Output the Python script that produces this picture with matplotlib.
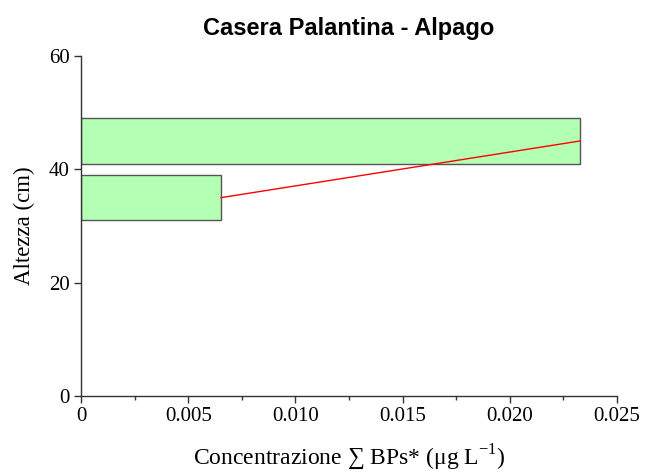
import matplotlib.pyplot as plt
from matplotlib.ticker import MultipleLocator, FuncFormatter

plt.rcParams['font.family'] = ['Liberation Serif', 'DejaVu Serif']
plt.rcParams['mathtext.fontset'] = 'custom'
plt.rcParams['mathtext.rm'] = 'Liberation Serif'

# sampling depth intervals (cm) and summed BPs concentration
depth_center = [35, 45]
depth_span = [8, 8]
conc = [0.00653, 0.02327]

fig = plt.figure(figsize=(6.51, 4.74), dpi=100)
ax = fig.add_axes([0.1244, 0.1646, 0.8234, 0.7173])

ax.barh(depth_center, conc, height=depth_span, color='#b3ffb3',
        edgecolor='#555555', linewidth=1.0, zorder=2)
ax.plot(conc, depth_center, color='red', linewidth=1.0, zorder=3)

ax.set_xlim(0, 0.025)
ax.set_ylim(0, 60)
ax.xaxis.set_major_locator(MultipleLocator(0.005))
ax.xaxis.set_minor_locator(MultipleLocator(0.0025))
ax.yaxis.set_major_locator(MultipleLocator(20))
ax.xaxis.set_major_formatter(FuncFormatter(lambda v, p: '0' if abs(v) < 1e-12 else '%.3f' % v))
ax.yaxis.set_major_formatter(FuncFormatter(lambda v, p: '%d' % v))

for s in ['top', 'right']:
    ax.spines[s].set_visible(False)
for s in ['left', 'bottom']:
    ax.spines[s].set_color('#333333')
    ax.spines[s].set_linewidth(1.0)

ax.tick_params(axis='both', which='major', direction='out', length=5, width=1,
               labelsize=15, color='#333333', pad=3)
ax.tick_params(axis='x', which='minor', direction='out', length=3, width=1, color='#333333')

ax.set_xlabel('Concentrazione ∑ BPs* (μg L$^{-1}$)', fontsize=17, labelpad=12)
ax.set_ylabel('Altezza (cm)', fontsize=16.5, labelpad=10)
ax.set_title('Casera Palantina - Alpago', fontsize=17, fontweight='bold',
             family='Liberation Sans', pad=15)

fig.savefig('out.png', dpi=100)
